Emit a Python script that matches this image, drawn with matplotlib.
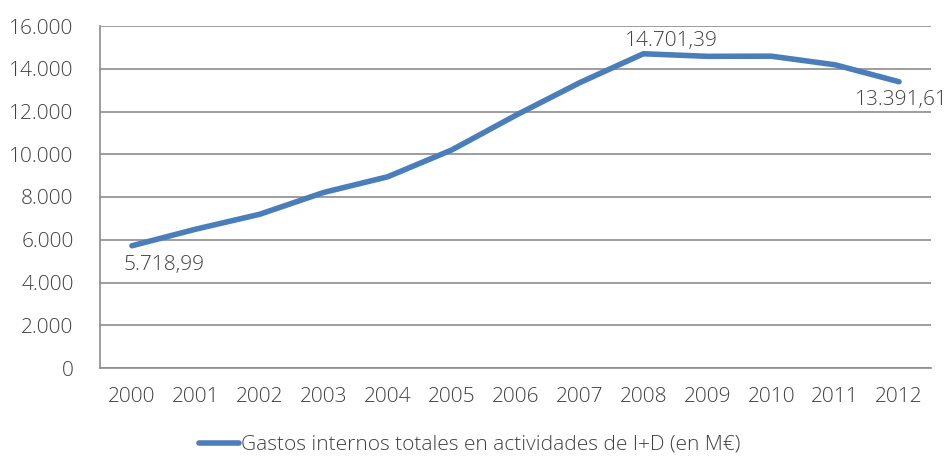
import matplotlib.pyplot as plt
from matplotlib.ticker import FuncFormatter

plt.rcParams['font.family'] = ['Open Sans', 'DejaVu Sans']
plt.rcParams['font.weight'] = 'light'

years = ['2000', '2001', '2002', '2003', '2004', '2005', '2006',
         '2007', '2008', '2009', '2010', '2011', '2012']
gasto = [5718.99, 6496.01, 7193.54, 8213.04, 8945.76, 10196.87, 11815.22,
         13342.37, 14701.39, 14581.68, 14588.46, 14184.29, 13391.61]
label_idx = [0, 8, 12]

txt = '#404040'
grid = '#8c8c8c'
fs = 15

fig = plt.figure(figsize=(9.46, 4.58), dpi=100)
ax = fig.add_axes([100 / 946, 90 / 458, 831 / 946, 342 / 458])

x = range(len(years))
ax.plot(x, gasto, color='#4a7ebb', lw=4, solid_capstyle='round',
        label='Gastos internos totales en actividades de I+D (en M€)')

ax.set_xlim(-0.5, len(years) - 0.5)
ax.set_ylim(0, 16000)
ax.set_yticks(range(0, 16001, 2000))
ax.yaxis.set_major_formatter(FuncFormatter(lambda v, p: f'{int(v):,}'.replace(',', '.')))
ax.set_xticks(list(x))
ax.set_xticklabels(years)
ax.yaxis.grid(True, color=grid, lw=1.2)
ax.set_axisbelow(True)
for s in ['top', 'right']:
    ax.spines[s].set_visible(False)
for s in ['left', 'bottom']:
    ax.spines[s].set_color(grid)
    ax.spines[s].set_linewidth(1.2)
ax.tick_params(axis='both', length=0, labelsize=fs, colors=txt)
ax.tick_params(axis='x', pad=14)
ax.tick_params(axis='y', pad=19)


def fmt(v):
    return f'{v:,.2f}'.replace(',', 'X').replace('.', ',').replace('X', '.')


# offsets in points (1 pt = 1.39 px here)
offsets = {0: (-6, -7, 'left', 'top'), 8: (-13, 2, 'left', 'bottom'),
           12: (-32, -6, 'left', 'top')}
for i in label_idx:
    dx, dy, ha, va = offsets[i]
    ax.annotate(fmt(gasto[i]), (i, gasto[i]), xytext=(dx, dy),
                textcoords='offset points', ha=ha, va=va,
                fontsize=fs, color=txt, annotation_clip=False)

leg = ax.legend(loc='center', bbox_to_anchor=(0.445, -0.225), frameon=False,
                fontsize=fs, handlelength=1.9, handletextpad=0.1,
                borderpad=0, borderaxespad=0)
for t in leg.get_texts():
    t.set_color(txt)

fig.savefig('out.png', dpi=100)
